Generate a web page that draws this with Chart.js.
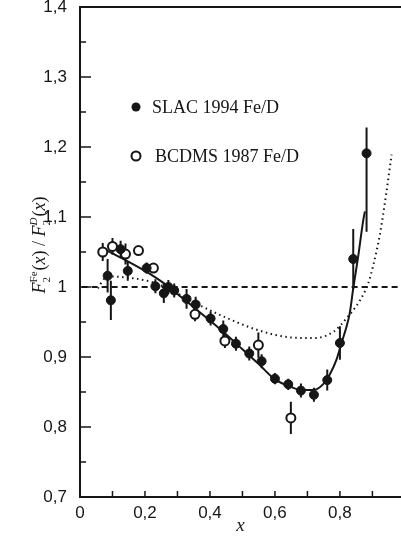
<!DOCTYPE html>
<html>
<head>
<meta charset="utf-8">
<script src="https://cdn.jsdelivr.net/npm/chart.js@4.4.1/dist/chart.umd.min.js"></script>
<style>
  html, body { margin: 0; padding: 0; background: #fff; }
  #wrap { width: 401px; height: 537px; }
</style>
</head>
<body>
<div id="wrap"><canvas id="ratio-chart" width="401" height="537"></canvas></div>
<script>
// SLAC 1994 Fe/D (filled circles)
const slacX = [0.085, 0.095, 0.125, 0.147, 0.205, 0.232, 0.258, 0.272, 0.290, 0.328, 0.356, 0.402, 0.441, 0.480, 0.521, 0.559, 0.600, 0.641, 0.680, 0.720, 0.761, 0.800, 0.841, 0.882];
const slacY = [1.016, 0.981, 1.054, 1.023, 1.027, 1.001, 0.991, 1.000, 0.995, 0.983, 0.975, 0.955, 0.940, 0.919, 0.905, 0.894, 0.869, 0.861, 0.852, 0.846, 0.867, 0.920, 1.040, 1.191];
const slacErrLo = [0.024, 0.028, 0.012, 0.014, 0.008, 0.010, 0.014, 0.010, 0.010, 0.014, 0.011, 0.010, 0.012, 0.010, 0.010, 0.010, 0.008, 0.008, 0.010, 0.010, 0.015, 0.024, 0.043, 0.112];
const slacErrHi = [0.024, 0.028, 0.012, 0.014, 0.008, 0.010, 0.014, 0.010, 0.010, 0.014, 0.011, 0.010, 0.012, 0.010, 0.010, 0.010, 0.008, 0.008, 0.010, 0.010, 0.015, 0.024, 0.043, 0.037];

// BCDMS 1987 Fe/D (open circles)
const bcdmsX = [0.070, 0.100, 0.140, 0.180, 0.226, 0.354, 0.446, 0.549, 0.649];
const bcdmsY = [1.050, 1.058, 1.047, 1.052, 1.027, 0.961, 0.923, 0.917, 0.813];
const bcdmsErr = [0.013, 0.012, 0.015, 0.005, 0.006, 0.010, 0.010, 0.018, 0.023];

// solid fit curve
const fitX = [0.070, 0.100, 0.150, 0.200, 0.250, 0.300, 0.350, 0.400, 0.450, 0.500, 0.550, 0.600, 0.640, 0.680, 0.720, 0.750, 0.770, 0.790, 0.805, 0.820, 0.830, 0.841, 0.856, 0.872, 0.877];
const fitY = [1.055, 1.048, 1.036, 1.023, 1.008, 0.990, 0.971, 0.952, 0.932, 0.911, 0.890, 0.868, 0.859, 0.853, 0.853, 0.862, 0.876, 0.897, 0.920, 0.943, 0.962, 0.998, 1.043, 1.096, 1.108];

// dotted model curve
const dotX = [0.055, 0.075, 0.095, 0.154, 0.215, 0.236, 0.280, 0.338, 0.441, 0.544, 0.646, 0.718, 0.780, 0.820, 0.862, 0.887, 0.902, 0.923, 0.943, 0.959];
const dotY = [0.998, 1.012, 1.015, 1.013, 1.008, 1.005, 0.996, 0.981, 0.958, 0.939, 0.928, 0.927, 0.936, 0.955, 0.981, 1.005, 1.030, 1.075, 1.135, 1.189];

// dashed unity line
const unityX = [0.005, 0.988];
const unityY = [1, 1];

const legendLabels = ['SLAC 1994 Fe/D', 'BCDMS 1987 Fe/D'];

const ink = '#161616';

function pts(xs, ys) {
    return xs.map((x, i) => ({ x: x, y: ys[i] }));
}

function comma(v) {
    if (Math.abs(v - 1) < 1e-6) return '1';
    if (Math.abs(v) < 1e-6) return '0';
    return v.toFixed(1).replace('.', ',');
}

// error bars drawn under the markers
const errorBars = {
    id: 'errorBars',
    beforeDatasetsDraw(chart) {
        const ctx = chart.ctx;
        const xs = chart.scales.x, ys = chart.scales.y;
        ctx.save();
        ctx.strokeStyle = ink;
        ctx.lineWidth = 2;
        ctx.beginPath();
        slacX.forEach((x, i) => {
            const px = xs.getPixelForValue(x);
            ctx.moveTo(px, ys.getPixelForValue(slacY[i] - slacErrLo[i]));
            ctx.lineTo(px, ys.getPixelForValue(slacY[i] + slacErrHi[i]));
        });
        bcdmsX.forEach((x, i) => {
            const px = xs.getPixelForValue(x);
            ctx.moveTo(px, ys.getPixelForValue(bcdmsY[i] - bcdmsErr[i]));
            ctx.lineTo(px, ys.getPixelForValue(bcdmsY[i] + bcdmsErr[i]));
        });
        ctx.stroke();
        ctx.restore();
    }
};

function drawRuns(ctx, runs) {
    let w = 0;
    runs.forEach(r => {
        ctx.font = r.font;
        if (r.stack) {
            w += Math.max(ctx.measureText(r.sub).width, ctx.measureText(r.sup).width) + 1;
        } else {
            w += ctx.measureText(r.t).width;
        }
    });
    let x = -w / 2;
    runs.forEach(r => {
        ctx.font = r.font;
        if (r.stack) {
            ctx.fillText(r.sub, x, 5);
            ctx.font = r.supFont || r.font;
            ctx.fillText(r.sup, x, -8);
            ctx.font = r.font;
            x += Math.max(ctx.measureText(r.sub).width, ctx.measureText(r.sup).width) + 1;
        } else {
            ctx.fillText(r.t, x, 0);
            x += ctx.measureText(r.t).width;
        }
    });
}

// frame top line, inward ticks, axis titles, legend
const decorations = {
    id: 'decorations',
    afterDraw(chart) {
        const ctx = chart.ctx;
        const xs = chart.scales.x, ys = chart.scales.y;
        const a = chart.chartArea;
        ctx.save();
        ctx.strokeStyle = ink;
        ctx.fillStyle = ink;

        // top frame line
        ctx.lineWidth = 2;
        ctx.beginPath();
        ctx.moveTo(a.left, a.top);
        ctx.lineTo(a.right, a.top);
        ctx.stroke();

        // inward ticks
        ctx.lineWidth = 1.5;
        ctx.beginPath();
        for (let k = 15; k <= 27; k++) {
            const py = ys.getPixelForValue(k * 0.05);
            ctx.moveTo(a.left, py);
            ctx.lineTo(a.left + (k % 2 === 0 ? 11 : 6), py);
        }
        for (let k = 1; k <= 9; k++) {
            const px = xs.getPixelForValue(k * 0.1);
            ctx.moveTo(px, a.bottom);
            ctx.lineTo(px, a.bottom - 6);
        }
        ctx.stroke();

        // x title
        ctx.textAlign = 'center';
        ctx.textBaseline = 'middle';
        ctx.font = 'italic 19px "Liberation Serif"';
        ctx.fillText('x', (a.left + a.right) / 2, 526);

        // y title
        ctx.save();
        ctx.translate(38, 245);
        ctx.rotate(-Math.PI / 2);
        ctx.textAlign = 'left';
        ctx.textBaseline = 'alphabetic';
        ctx.translate(0, 7);
        const it = 'italic 18px "Liberation Serif"';
        const rm = '18px "Liberation Serif"';
        const sm = '11px "Liberation Serif"';
        const smi = 'italic 11px "Liberation Serif"';
        drawRuns(ctx, [
            { t: 'F', font: it },
            { stack: true, sub: '2', sup: 'Fe', font: sm },
            { t: '(', font: rm }, { t: 'x', font: it }, { t: ') / ', font: rm },
            { t: 'F', font: it },
            { stack: true, sub: '2', sup: 'D', font: sm, supFont: smi },
            { t: '(', font: rm }, { t: 'x', font: it }, { t: ')', font: rm }
        ]);
        ctx.restore();

        // legend
        ctx.textAlign = 'left';
        ctx.textBaseline = 'middle';
        ctx.font = '18px "Liberation Serif"';
        ctx.beginPath();
        ctx.arc(136, 107, 4.5, 0, Math.PI * 2);
        ctx.fill();
        ctx.fillText(legendLabels[0], 152, 108);
        ctx.lineWidth = 2;
        ctx.fillStyle = '#fff';
        ctx.beginPath();
        ctx.arc(136, 156, 4.5, 0, Math.PI * 2);
        ctx.fill();
        ctx.stroke();
        ctx.fillStyle = ink;
        ctx.fillText(legendLabels[1], 155, 157);
        ctx.restore();
    }
};

const ctx = document.getElementById('ratio-chart').getContext('2d');

new Chart(ctx, {
    type: 'scatter',
    data: {
        datasets: [
            {
                label: legendLabels[0],
                data: pts(slacX, slacY),
                pointRadius: 4.5,
                pointBackgroundColor: ink,
                pointBorderColor: ink,
                pointBorderWidth: 1,
                order: 0
            },
            {
                label: legendLabels[1],
                data: pts(bcdmsX, bcdmsY),
                pointRadius: 4.5,
                pointBackgroundColor: '#fff',
                pointBorderColor: ink,
                pointBorderWidth: 2,
                order: 0
            },
            {
                label: 'fit',
                data: pts(fitX, fitY),
                showLine: true,
                pointRadius: 0,
                borderColor: ink,
                borderWidth: 2,
                cubicInterpolationMode: 'monotone',
                order: 1
            },
            {
                label: 'model',
                data: pts(dotX, dotY),
                showLine: true,
                pointRadius: 0,
                borderColor: ink,
                borderWidth: 2,
                borderDash: [1.5, 3.5],
                cubicInterpolationMode: 'monotone',
                order: 1
            },
            {
                label: 'unity',
                data: pts(unityX, unityY),
                showLine: true,
                pointRadius: 0,
                borderColor: ink,
                borderWidth: 2,
                borderDash: [6, 4],
                order: 1
            }
        ]
    },
    options: {
        responsive: false,
        devicePixelRatio: 1,
        animation: false,
        layout: { autoPadding: false, padding: { top: 7, right: 0, left: 0, bottom: 0 } },
        plugins: {
            legend: { display: false },
            tooltip: { enabled: false }
        },
        scales: {
            x: {
                type: 'linear',
                min: 0,
                max: 0.988,
                grid: { display: false, drawTicks: false },
                border: { display: true, color: ink, width: 2 },
                afterFit: (scale) => {
                    scale.height = 40;
                    scale.paddingLeft = 0;
                    scale.paddingRight = 0;
                },
                ticks: {
                    stepSize: 0.1,
                    padding: 6,
                    color: ink,
                    font: { family: '"Liberation Sans"', size: 17 },
                    autoSkip: false,
                    maxRotation: 0,
                    callback: (v) => (Math.abs(v * 5 - Math.round(v * 5)) < 1e-6 && v < 0.95) ? comma(v) : ''
                }
            },
            y: {
                min: 0.7,
                max: 1.4,
                grid: { display: false, drawTicks: false },
                border: { display: true, color: ink, width: 2 },
                afterFit: (scale) => {
                    scale.width = 80;
                    scale.paddingTop = 0;
                    scale.paddingBottom = 0;
                },
                ticks: {
                    stepSize: 0.1,
                    padding: 13,
                    color: ink,
                    font: { family: '"Liberation Sans"', size: 17 },
                    callback: (v) => comma(v)
                }
            }
        }
    },
    plugins: [errorBars, decorations]
});
</script>
</body>
</html>
